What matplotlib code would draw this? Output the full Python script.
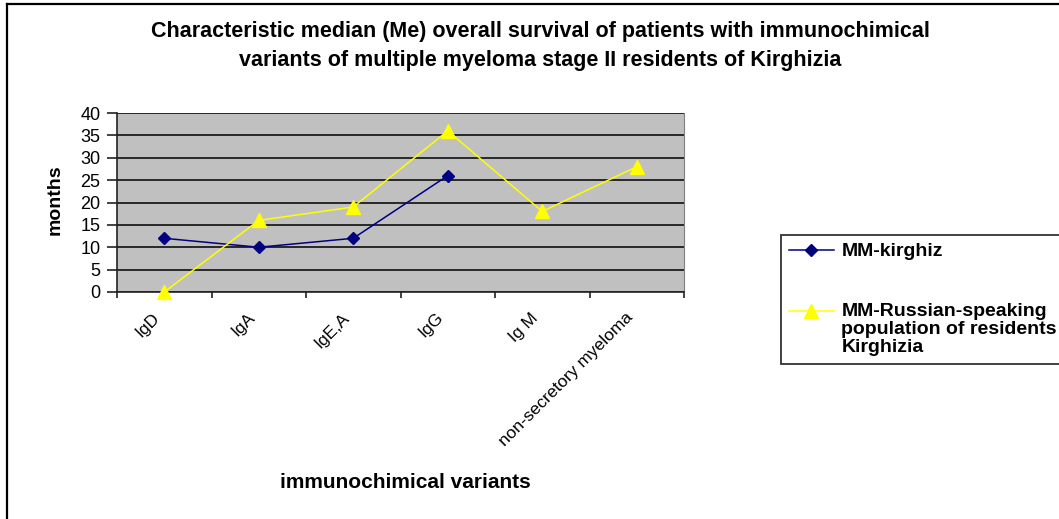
import matplotlib.pyplot as plt
from matplotlib.lines import Line2D
from matplotlib.legend_handler import HandlerLine2D
from matplotlib.transforms import ScaledTranslation
import numpy as np

# Chart data
categories = ['IgD', 'IgA', 'IgE,A', 'IgG', 'Ig M', 'non-secretory myeloma']
mm_kirghiz = [12, 10, 12, 26, np.nan, np.nan]
mm_russian = [0, 16, 19, 36, 18, 28]
y_ticks = [0, 5, 10, 15, 20, 25, 30, 35, 40]

title = ('Characteristic median (Me) overall survival of patients with immunochimical\n'
         'variants of multiple myeloma stage II residents of Kirghizia')


# legend handle drawn level with the first line of a multi-line label
class HandlerFirstLine(HandlerLine2D):
    def __init__(self, lift, **kw):
        super().__init__(**kw)
        self.lift = lift

    def create_artists(self, legend, orig_handle, xdescent, ydescent, width, height,
                       fontsize, trans):
        artists = super().create_artists(legend, orig_handle, xdescent, ydescent,
                                         width, height, fontsize, trans)
        for a in artists:
            a.set_ydata(np.asarray(a.get_ydata()) + self.lift)
        return artists


plt.rcParams['font.family'] = ['Liberation Sans', 'DejaVu Sans']

W, H = 1059, 519
fig = plt.figure(figsize=(W / 100, H / 100), dpi=100)
ax = fig.add_axes([117 / W, 1 - 292 / H, 567 / W, 179 / H])
ax.set_facecolor('#c0c0c0')

x = np.arange(len(categories)) + 0.5
ax.plot(x, mm_kirghiz, color='#000080', marker='D', markersize=6.5, linewidth=1.1,
        label='MM-kirghiz', zorder=3)
ax.plot(x, mm_russian, color='#ffff00', marker='^', markersize=9.5, linewidth=1.1,
        label='MM-Russian-speaking\npopulation of residents\nKirghizia', clip_on=False,
        zorder=3)

ax.set_xlim(0, len(categories))
ax.set_ylim(0, 40)
ax.set_yticks(y_ticks)
ax.set_xticks(np.arange(len(categories) + 1))
ax.set_xticklabels([])
ax.set_xticks(x, minor=True)
ax.set_xticklabels(categories, minor=True, rotation=45, ha='right', va='top',
                   rotation_mode='anchor', fontsize=12.5)
ax.tick_params(axis='x', which='minor', length=0, pad=13)
ax.tick_params(axis='x', which='major', direction='out', length=4.5, width=1.2,
               color='#222222')
ax.tick_params(axis='y', direction='out', length=7, width=1.2, labelsize=13, pad=5,
               color='#222222')
# nudge the slanted category labels left (after tick_params, which resets transforms)
shift = ScaledTranslation(-12 / 100, 0, fig.dpi_scale_trans)
for lbl in ax.get_xticklabels(minor=True):
    lbl.set_transform(lbl.get_transform() + shift)

ax.yaxis.grid(True, color='black', linewidth=1.1)
ax.set_axisbelow(True)
ax.spines['top'].set_visible(False)
ax.spines['right'].set_color('#808080')
ax.spines['left'].set_color('#222222')
ax.spines['bottom'].set_color('#222222')
ax.spines['left'].set_linewidth(1.2)
ax.spines['bottom'].set_linewidth(1.2)

ax.set_ylabel('months', fontsize=14, fontweight='bold')
ax.yaxis.set_label_coords(64 / W, 1 - 200 / H, transform=fig.transFigure)
fig.text(405 / W, 1 - 482 / H, 'immunochimical variants', fontsize=15,
         fontweight='bold', ha='center', va='center')
fig.text(540 / W, 1 - 46 / H, title, fontsize=15.5, fontweight='bold',
         ha='center', va='center', linespacing=1.45)

fs_leg = 14
handles, labels = ax.get_legend_handles_labels()
leg = ax.legend(handles, labels, loc='upper left',
                bbox_to_anchor=(781 / W, 1 - 235 / H - 0.1, 330 / W, 0.1),
                bbox_transform=fig.transFigure, mode='expand',
                frameon=True, fancybox=False, edgecolor='black',
                labelspacing=2.2, handlelength=2.3, handletextpad=0.4,
                borderpad=0.4, borderaxespad=0,
                prop={'weight': 'bold', 'size': fs_leg},
                handler_map={handles[1]: HandlerFirstLine(13.5)})
leg.get_frame().set_linewidth(1.3)
for t in leg.get_texts():
    t.set_linespacing(1.08)

# outer chart border (left and top visible)
fig.add_artist(Line2D([7 / W, 7 / W], [0, 1 - 4 / H], color='black', linewidth=1.6))
fig.add_artist(Line2D([7 / W, 1], [1 - 4 / H, 1 - 4 / H], color='black', linewidth=1.6))

fig.savefig('out.png', dpi=100)
